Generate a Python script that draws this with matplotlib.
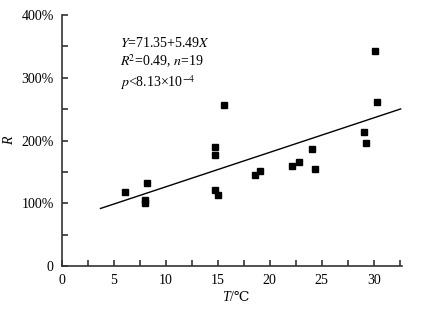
import matplotlib
matplotlib.use("Agg")
import matplotlib.pyplot as plt
from matplotlib.ticker import MultipleLocator, FuncFormatter

plt.rcParams["font.family"] = ["Liberation Serif", "DejaVu Serif"]
plt.rcParams["mathtext.fontset"] = "stix"

# water temperature (deg C) and ratio R (%)
temp = [6.1, 8.2, 8.0, 8.0, 14.7, 14.7, 14.7, 15.0, 15.6, 18.6,
        19.1, 22.1, 22.8, 24.1, 24.4, 29.1, 29.3, 30.1, 30.3]
ratio = [118, 132, 105, 101, 190, 177, 121, 113, 257, 145,
         152, 159, 166, 186, 155, 213, 196, 343, 261]

# regression Y = 71.35 + 5.49 X
intercept = 71.35
slope = 5.49
fit_x = [3.7, 32.6]

fig = plt.figure(figsize=(4.31, 3.14), dpi=100)
ax = fig.add_axes([0.144, 0.153, 0.788, 0.799])

ax.plot(temp, ratio, "s", color="black", ms=4.3, zorder=3)
ax.plot(fit_x, [intercept + slope * x for x in fit_x], color="black", lw=1)

ax.set_xlim(0, 32.7)
ax.set_ylim(0, 400)
ax.xaxis.set_major_locator(MultipleLocator(5))
ax.xaxis.set_minor_locator(MultipleLocator(2.5))
ax.yaxis.set_major_locator(MultipleLocator(100))
ax.yaxis.set_minor_locator(MultipleLocator(50))
ax.yaxis.set_major_formatter(FuncFormatter(lambda v, p: "0" if v == 0 else "%d%%" % v))

for s in ["top", "right"]:
    ax.spines[s].set_visible(False)
for s in ["left", "bottom"]:
    ax.spines[s].set_color("#333333")
    ax.spines[s].set_linewidth(1.2)

ax.tick_params(which="both", direction="in", length=4, width=1.2, color="#333333",
               labelsize=10)
ax.tick_params(axis="y", pad=6)
ax.tick_params(axis="x", pad=6)

# axis titles
ax.text(-0.156, 0.5, "R", style="italic", fontsize=10, rotation=90,
        transform=ax.transAxes, ha="center", va="center")
ax.text(0.493, -0.125, "T", style="italic", fontsize=10,
        transform=ax.transAxes, ha="right", va="center")
ax.text(0.493, -0.125, "/℃", fontsize=10,
        transform=ax.transAxes, ha="left", va="center")

ax.text(0.171, 0.917, "$Y$=71.35+5.49$X$\n$R^{\\!2}$=0.49, $n$=19\n$p$<8.13×10$^{-4}$",
        transform=ax.transAxes, fontsize=10, va="top", ha="left", linespacing=1.2)

fig.savefig("out.png", dpi=100)
